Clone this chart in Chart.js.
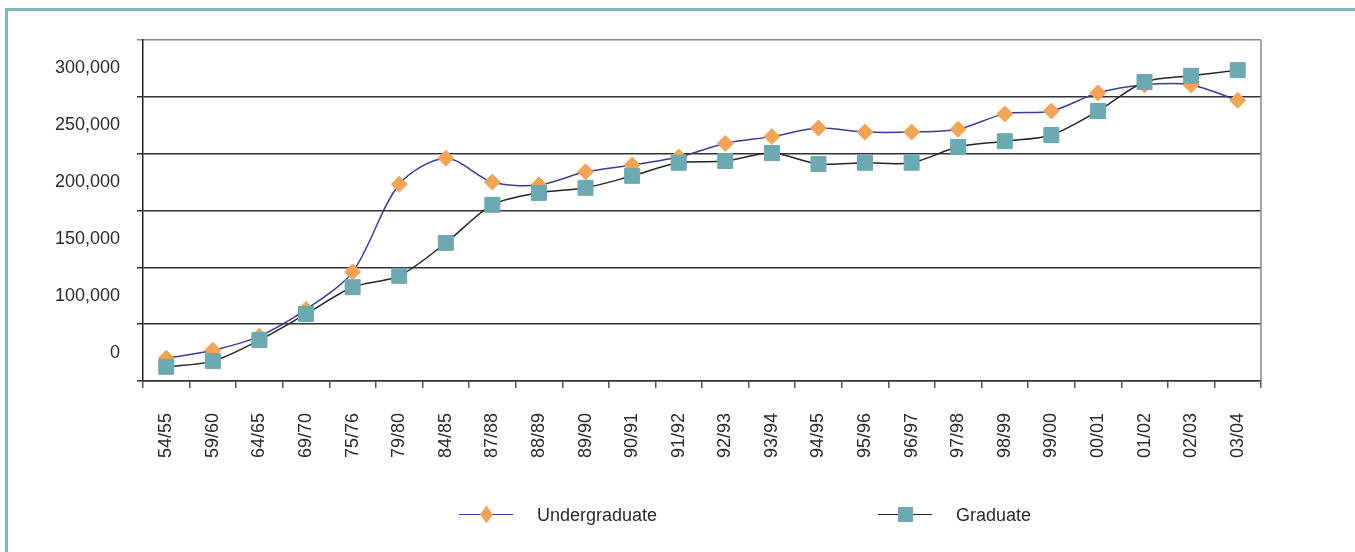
<!DOCTYPE html>
<html>
<head>
<meta charset="utf-8">
<title>Undergraduate and Graduate</title>
<script src="https://cdn.jsdelivr.net/npm/chart.js@4.4.1/dist/chart.umd.min.js"></script>
<style>
  html, body { margin: 0; padding: 0; background: #fff; }
  #wrap { position: relative; width: 1355px; height: 552px; overflow: hidden; }
  #frame {
    position: absolute; left: 5px; top: 8px; right: 0; bottom: 0;
    border-left: 3px solid #7fb8c1; border-top: 3px solid #7fb8c1;
  }
  #chart { position: absolute; left: 0; top: 0; }
  .lg-item { position: absolute; top: 503px; display: flex; align-items: center; height: 24px; }
  .lg-sample { position: relative; width: 54px; height: 24px; }
  .lg-line { position: absolute; left: 0; right: 0; top: 11px; height: 0; border-top: 1.5px solid; }
  .lg-mark { position: absolute; left: 50%; top: 50%; }
  .lg-text {
    margin-left: 24px; color: #2b2b2b;
    font: 18px 'Liberation Sans Narrow', 'Liberation Sans', Arial, sans-serif;
  }
</style>
</head>
<body>
<div id="wrap">
  <div id="frame"></div>
  <canvas id="chart" width="1355" height="552"></canvas>
  <div id="legend"></div>
</div>
<script>
  const categories = [
    "54/55", "59/60", "64/65", "69/70", "75/76", "79/80", "84/85", "87/88",
    "88/89", "89/90", "90/91", "91/92", "92/93", "93/94", "94/95", "95/96",
    "96/97", "97/98", "98/99", "99/00", "00/01", "01/02", "02/03", "03/04"
  ];
  const undergraduate = [
    20000, 27000, 39500, 63000, 96000, 173000, 196000, 175000,
    172500, 184000, 190000, 197000, 209000, 215000, 222500, 219000,
    219000, 221500, 235000, 237500, 253500, 260500, 260500, 247000
  ];
  const graduate = [
    12500, 17500, 36000, 59000, 82500, 92500, 121500, 155000,
    165500, 170000, 180500, 192000, 193500, 200500, 191000, 192000,
    192000, 206000, 211000, 216500, 237500, 263000, 268500, 273500
  ];
  // labels sit between the gridlines in the original
  const yTickLabels = ["0", "100,000", "150,000", "200,000", "250,000", "300,000"];

  const FONT = "'Liberation Sans Narrow', 'Liberation Sans', Arial, sans-serif";
  const TEXT = "#2b2b2b";

  const series = [
    { label: "Undergraduate", data: undergraduate, line: "#3a3d9c", fill: "#f4a456", style: "rectRot", radius: 8,    order: 2 },
    { label: "Graduate",      data: graduate,      line: "#262626", fill: "#6ca9b1", style: "rect",    radius: 10.6, order: 1 },
  ];

  /* ── right edge of the plot frame ── */
  const plotFrame = {
    id: "plotFrame",
    beforeDatasetsDraw(chart) {
      const { ctx, chartArea: a } = chart;
      ctx.save();
      ctx.strokeStyle = "#8a8a8a";
      ctx.lineWidth = 1.5;
      ctx.beginPath();
      ctx.moveTo(a.right, a.top);
      ctx.lineTo(a.right, a.bottom);
      ctx.stroke();
      ctx.restore();
    },
  };

  new Chart(document.getElementById("chart"), {
    type: "line",
    data: {
      labels: categories,
      datasets: series.map((s) => ({
        label: s.label,
        data: s.data,
        order: s.order,
        borderColor: s.line,
        borderWidth: 1.5,
        tension: 0.3,
        pointStyle: s.style,
        pointRadius: s.radius,
        pointHoverRadius: s.radius,
        pointBackgroundColor: s.fill,
        pointBorderColor: s.fill,
        pointBorderWidth: 1,
      })),
    },
    options: {
      responsive: false,
      animation: false,
      devicePixelRatio: 1,
      layout: { padding: { left: 0, top: 40, right: 94, bottom: 0 } },
      plugins: {
        legend: { display: false },
        tooltip: { enabled: false },
      },
      scales: {
        x: {
          offset: true,
          grid: { offset: true, drawOnChartArea: false, tickLength: 7, color: "#555", lineWidth: 1.5 },
          border: { color: "#333", width: 1.5 },
          ticks: {
            autoSkip: false,
            minRotation: 90,
            maxRotation: 90,
            padding: 25,
            color: TEXT,
            font: { family: FONT, size: 18 },
          },
          afterFit: (s) => { s.height = 171; },
        },
        y: {
          min: 0,
          max: 300000,
          grid: {
            color: (c) => {
              const v = c.tick ? c.tick.value : 0;
              if (v % 50000 !== 0) return "rgba(0,0,0,0)";
              return v === 300000 ? "#8a8a8a" : "#333";
            },
            lineWidth: 1.5,
            tickLength: 6,
          },
          border: { color: "#222", width: 1.5 },
          ticks: {
            stepSize: 25000,
            autoSkip: false,
            padding: 17,
            color: TEXT,
            font: { family: FONT, size: 18 },
            callback: (v, i) => (i % 2 ? yTickLabels[(i - 1) / 2] : ""),
          },
          afterFit: (s) => { s.width = 143; },
        },
      },
    },
    plugins: [plotFrame],
  });

  /* ── legend ── */
  const legendLeft = [459, 878];
  const legend = document.getElementById("legend");
  series.forEach((s, i) => {
    const item = document.createElement("div");
    item.className = "lg-item";
    item.style.left = legendLeft[i] + "px";
    const mark = s.style === "rectRot"
      ? `<div class="lg-mark" style="width:9px;height:9px;margin:-5px 0 0 -4.5px;background:${s.fill};transform:scale(1,1.4) rotate(45deg)"></div>`
      : `<div class="lg-mark" style="width:15px;height:15px;margin:-8px 0 0 -7.5px;background:${s.fill}"></div>`;
    item.innerHTML = `
      <div class="lg-sample">
        <div class="lg-line" style="border-color:${s.line}"></div>
        ${mark}
      </div>
      <div class="lg-text">${s.label}</div>`;
    legend.appendChild(item);
  });
</script>
</body>
</html>
